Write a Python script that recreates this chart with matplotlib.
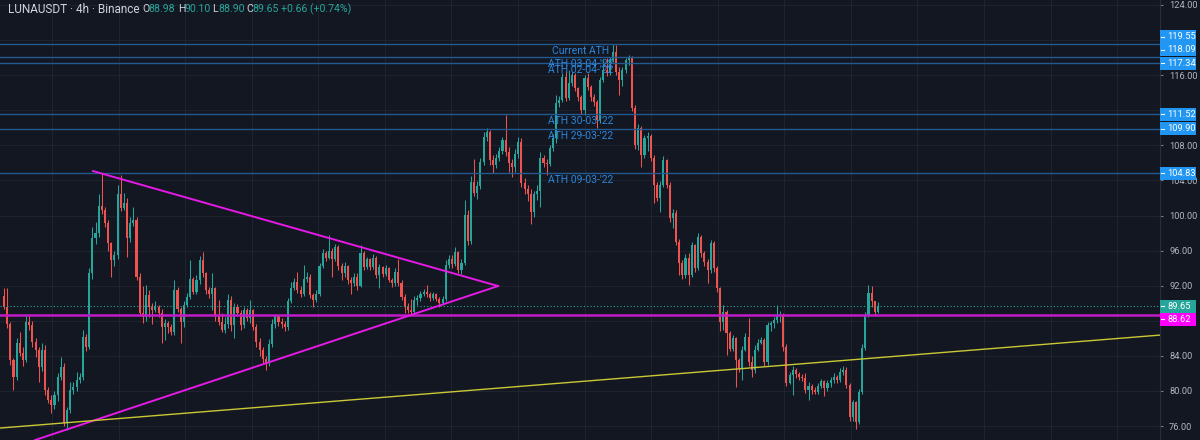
"""
LUNAUSDT 4h (Binance) - TradingView style candles with ATH levels,
symmetrical triangle and rising support line.
"""

import numpy as np
import matplotlib.pyplot as plt
from matplotlib.patches import Rectangle
from matplotlib.ticker import FuncFormatter
from matplotlib.transforms import blended_transform_factory

plt.rcParams["font.family"] = ["Roboto", "DejaVu Sans"]

# ---------------------------------------------------------------------------
# 1. Data: 4h candles, oldest -> newest
# ---------------------------------------------------------------------------
opens = [
    # early March: dip, spike to ~104.8, chop around 88
    90.8, 89.6, 87.6, 83.5, 81.6, 85.5, 84.3, 83.5, 87.9, 87.5,
    85.6, 84.7, 82.7, 84.7, 80.1, 79.0, 78.4, 79.5, 81.6, 82.7,
    76.4, 77.8, 80.1, 80.4, 81.3, 81.6, 86.2, 85.0, 93.4, 97.4,
    98.0, 101.1, 100.6, 99.1, 96.9, 94.9, 95.5, 102.4, 100.9, 101.4,
    97.4, 99.1, 99.5, 93.0, 88.9, 88.4, 90.9, 89.6, 89.2, 89.6,
    88.9, 87.3, 87.8, 87.3, 86.7, 91.5,
    # triangle
    89.4, 87.9, 89.8, 90.7, 92.8, 91.3, 92.6, 94.9, 93.4, 91.5,
    91.0, 91.7, 88.5, 87.9, 87.0, 87.6, 90.4, 87.5, 89.6, 88.9,
    87.5, 89.2, 88.3, 89.2, 87.3, 85.6, 84.7, 83.6, 83.2, 85.4,
    87.6, 88.5, 87.9, 87.6, 87.3, 90.2, 91.7, 92.4, 91.5, 91.0,
    92.8, 93.0, 90.9, 90.4, 91.0, 94.2, 95.7, 95.2, 95.9, 95.0,
    96.4, 94.2, 93.4, 94.2, 92.6, 92.3, 93.0,
    # breakout
    92.0, 95.7, 94.1, 95.0, 94.1, 95.2, 93.2, 94.1, 93.3, 94.0,
    92.7, 92.3, 93.6, 92.3, 90.7, 89.6, 89.2, 89.0, 90.4, 90.6,
    91.1, 91.3, 91.0, 90.6, 91.0, 90.5, 90.0, 90.5, 94.4, 95.1,
    94.5, 95.8, 93.8, 94.6, 100.1, 97.1, 103.8, 102.6, 103.4, 106.1,
    108.9, 109.5, 106.3, 105.8, 106.6, 107.3, 108.6, 107.2, 106.0, 105.5,
    107.0, 108.4, 103.7, 103.0, 102.5, 100.4, 102.4, 102.8,
    # ATH top and sell-off
    106.6, 106.0, 105.9, 107.7, 108.8, 112.8, 113.2, 115.8, 113.4, 115.1,
    116.0, 114.5, 113.5, 112.0, 115.7, 114.7, 113.5, 112.9, 110.9, 115.4,
    116.6, 116.3, 117.7, 118.6, 116.4, 115.4, 116.6, 117.7, 118.0, 112.3,
    108.0, 110.0, 106.9, 108.8, 109.1, 106.6, 103.5, 102.0, 103.5, 106.3,
    103.5, 99.7, 100.3, 97.0, 94.6, 93.2, 95.2, 93.2, 96.6, 94.0,
    97.6, 95.7, 94.7, 93.8, 96.9, 94.0, 91.7,
    # base and rebound
    87.9, 89.0, 86.6, 84.8, 86.0, 83.5, 82.6, 84.7, 86.2, 83.3,
    82.4, 84.7, 85.5, 85.8, 83.3, 87.5, 87.8, 88.1, 88.5, 88.7,
    85.0, 80.9, 81.8, 82.4, 81.9, 81.6, 81.5, 80.1, 80.6, 80.1,
    79.9, 80.6, 81.1, 80.3, 80.9, 81.2, 81.6, 81.3, 82.2, 82.4,
    80.7, 77.0, 78.7, 76.5, 79.9, 84.9, 88.7, 91.2, 90.2, 88.98,
]
highs = [
    91.7, 91.7, 87.9, 83.8, 86.0, 86.7, 85.0, 88.7, 88.5, 88.0,
    86.0, 85.0, 85.5, 85.2, 80.5, 79.5, 80.0, 82.0, 83.9, 83.2,
    78.2, 81.0, 81.0, 82.2, 82.0, 87.0, 86.5, 94.0, 98.7, 99.3,
    102.4, 104.8, 101.0, 99.5, 97.0, 96.0, 103.5, 104.6, 102.6, 102.0,
    99.8, 101.0, 99.8, 93.5, 92.0, 92.1, 91.5, 90.0, 90.2, 89.8,
    89.3, 88.2, 88.0, 87.6, 92.7, 91.8,
    89.6, 90.3, 91.2, 94.9, 93.0, 93.2, 95.4, 95.8, 93.6, 91.8,
    93.4, 91.9, 90.4, 88.9, 88.4, 91.0, 90.8, 90.0, 89.9, 89.2,
    89.6, 89.5, 90.4, 89.3, 87.6, 86.0, 85.0, 84.0, 85.9, 88.2,
    88.7, 88.6, 88.3, 88.0, 90.6, 92.4, 92.9, 93.6, 92.0, 94.4,
    93.6, 93.3, 91.2, 91.5, 94.6, 96.2, 96.0, 97.8, 96.3, 96.8,
    96.6, 94.6, 94.7, 94.4, 93.0, 93.4, 93.5,
    96.6, 95.9, 95.3, 95.2, 95.6, 95.4, 94.5, 94.3, 94.4, 94.1,
    92.9, 94.0, 95.0, 92.6, 91.0, 90.0, 90.5, 90.8, 90.9, 91.4,
    91.6, 92.1, 91.3, 91.3, 91.2, 90.7, 90.8, 94.9, 95.5, 95.5,
    96.4, 96.0, 95.0, 101.8, 100.6, 104.5, 106.4, 103.9, 106.6, 109.5,
    110.0, 109.8, 106.9, 107.0, 107.8, 109.0, 111.5, 107.8, 106.5, 107.6,
    108.9, 108.8, 104.3, 103.5, 103.0, 102.8, 103.5, 107.2,
    106.9, 106.5, 108.0, 109.3, 113.7, 113.6, 116.2, 116.5, 116.6, 116.4,
    116.3, 114.6, 113.7, 116.0, 116.2, 114.9, 113.9, 113.2, 115.8, 117.7,
    118.0, 118.1, 119.55, 119.4, 116.9, 116.9, 118.0, 118.3, 118.2, 112.6,
    110.4, 110.2, 109.2, 109.5, 109.3, 106.9, 103.8, 103.9, 106.8, 106.5,
    103.8, 100.7, 100.6, 97.3, 94.9, 95.6, 95.7, 97.0, 96.8, 98.0,
    97.8, 96.0, 95.0, 97.2, 97.1, 94.2, 91.9,
    89.8, 89.2, 86.8, 86.4, 86.2, 83.8, 85.1, 86.6, 88.3, 84.0,
    85.2, 85.9, 86.2, 86.0, 87.9, 88.0, 88.4, 89.8, 89.1, 88.9,
    85.3, 82.2, 82.8, 82.6, 82.2, 81.9, 82.0, 81.0, 80.8, 80.5,
    80.9, 81.4, 81.3, 81.2, 81.6, 82.0, 81.8, 82.6, 82.9, 82.7,
    80.9, 79.0, 78.9, 80.2, 85.3, 89.0, 92.1, 92.0, 90.3, 90.10,
]
lows = [
    89.3, 87.2, 83.0, 80.1, 81.2, 84.0, 82.9, 83.3, 87.0, 85.0,
    83.9, 81.0, 82.3, 79.5, 78.6, 77.5, 78.0, 78.9, 81.3, 76.0,
    75.6, 77.5, 79.6, 80.0, 80.9, 81.3, 84.6, 84.8, 92.8, 96.8,
    97.5, 100.2, 98.7, 96.0, 93.0, 94.3, 95.0, 100.5, 100.6, 95.3,
    97.0, 98.8, 92.6, 88.5, 87.8, 88.0, 88.4, 87.6, 89.0, 88.4,
    85.5, 85.8, 86.6, 86.4, 86.4, 89.0,
    85.5, 87.3, 89.6, 90.5, 91.0, 91.0, 92.2, 93.0, 91.1, 90.6,
    89.2, 88.0, 87.5, 86.7, 86.6, 87.2, 86.8, 86.0, 88.5, 86.9,
    87.2, 88.0, 87.8, 86.9, 85.0, 84.0, 83.1, 82.4, 82.8, 85.0,
    87.2, 87.4, 87.2, 86.8, 87.0, 90.0, 91.5, 91.2, 90.7, 90.8,
    92.4, 90.6, 89.6, 90.1, 90.8, 94.0, 94.8, 95.0, 93.0, 94.8,
    93.8, 92.6, 93.0, 92.2, 91.0, 92.0, 91.5,
    91.8, 93.8, 93.9, 93.8, 93.9, 92.9, 91.7, 93.0, 93.1, 92.4,
    91.9, 92.0, 92.0, 90.4, 88.9, 88.9, 88.7, 88.8, 89.8, 90.3,
    90.8, 90.7, 90.3, 90.4, 90.2, 89.6, 89.8, 90.2, 94.0, 94.0,
    94.3, 93.4, 93.3, 94.4, 96.6, 96.8, 102.2, 101.9, 103.0, 105.8,
    108.5, 105.8, 104.8, 105.4, 106.2, 107.0, 106.8, 105.0, 104.4, 105.0,
    106.6, 103.2, 102.5, 101.7, 99.0, 99.8, 101.8, 101.0,
    105.5, 104.6, 105.7, 107.4, 108.3, 112.4, 112.9, 113.0, 113.2, 114.8,
    114.2, 113.0, 111.6, 111.5, 114.3, 113.1, 112.5, 110.0, 110.6, 115.2,
    115.9, 116.0, 117.5, 116.0, 113.7, 114.8, 116.3, 117.2, 111.9, 107.6,
    107.5, 105.5, 106.6, 107.4, 106.2, 101.4, 101.6, 100.4, 103.2, 103.1,
    99.3, 98.6, 96.6, 93.2, 92.8, 92.9, 92.1, 93.0, 93.6, 93.8,
    95.3, 94.3, 92.3, 93.5, 93.6, 91.3, 86.8,
    87.0, 84.1, 84.5, 84.5, 80.5, 82.2, 81.3, 84.5, 82.9, 81.6,
    82.0, 84.5, 85.3, 82.9, 83.0, 86.8, 87.2, 87.8, 87.9, 84.6,
    80.6, 80.8, 79.5, 81.5, 81.3, 81.1, 79.8, 79.0, 79.7, 79.6,
    79.7, 80.3, 79.4, 80.0, 80.5, 80.9, 80.9, 81.0, 81.8, 80.3,
    76.6, 76.6, 75.7, 76.2, 79.7, 84.7, 88.4, 89.6, 88.5, 88.90,
]
closes = [
    89.6, 87.6, 83.5, 81.6, 85.5, 84.3, 83.5, 87.9, 87.5, 85.6,
    84.7, 82.7, 84.7, 80.1, 79.0, 78.4, 79.5, 81.6, 82.7, 76.4,
    77.8, 80.1, 80.4, 81.3, 81.6, 86.2, 85.0, 93.4, 97.4, 98.0,
    101.1, 100.6, 99.1, 96.9, 94.9, 95.5, 102.4, 100.9, 101.4, 97.4,
    99.1, 99.5, 93.0, 88.9, 88.4, 90.9, 89.6, 89.2, 89.6, 88.9,
    87.3, 87.8, 87.3, 86.7, 91.5, 89.4,
    87.9, 89.8, 90.7, 92.8, 91.3, 92.6, 94.9, 93.4, 91.5, 91.0,
    91.7, 88.5, 87.9, 87.0, 87.6, 90.4, 87.5, 89.6, 88.9, 87.5,
    89.2, 88.3, 89.2, 87.3, 85.6, 84.7, 83.6, 83.2, 85.4, 87.6,
    88.5, 87.9, 87.6, 87.3, 90.2, 91.7, 92.4, 91.5, 91.0, 92.8,
    93.0, 90.9, 90.4, 91.0, 94.2, 95.7, 95.2, 95.9, 95.0, 96.4,
    94.2, 93.4, 94.2, 92.6, 92.3, 93.0, 92.0,
    95.7, 94.1, 95.0, 94.1, 95.2, 93.2, 94.1, 93.3, 94.0, 92.7,
    92.3, 93.6, 92.3, 90.7, 89.6, 89.2, 89.0, 90.4, 90.6, 91.1,
    91.3, 91.0, 90.6, 91.0, 90.5, 90.0, 90.5, 94.4, 95.1, 94.5,
    95.8, 93.8, 94.6, 100.1, 97.1, 103.8, 102.6, 103.4, 106.1, 108.9,
    109.5, 106.3, 105.8, 106.6, 107.3, 108.6, 107.2, 106.0, 105.5, 107.0,
    108.4, 103.7, 103.0, 102.5, 100.4, 102.4, 102.8, 106.6,
    106.0, 105.9, 107.7, 108.8, 112.8, 113.2, 115.8, 113.4, 115.1, 116.0,
    114.5, 113.5, 112.0, 115.7, 114.7, 113.5, 112.9, 110.9, 115.4, 116.6,
    116.3, 117.7, 118.6, 116.4, 115.4, 116.6, 117.7, 118.0, 112.3, 108.0,
    110.0, 106.9, 108.8, 109.1, 106.6, 103.5, 102.0, 103.5, 106.3, 103.5,
    99.7, 100.3, 97.0, 94.6, 93.2, 95.2, 93.2, 96.6, 94.0, 97.6,
    95.7, 94.7, 93.8, 96.9, 94.0, 91.7, 87.9,
    89.0, 86.6, 84.8, 86.0, 83.5, 82.6, 84.7, 86.2, 83.3, 82.4,
    84.7, 85.5, 85.8, 83.3, 87.5, 87.8, 88.1, 88.5, 88.7, 85.0,
    80.9, 81.8, 82.4, 81.9, 81.6, 81.5, 80.1, 80.6, 80.1, 79.9,
    80.6, 81.1, 80.3, 80.9, 81.2, 81.6, 81.3, 82.2, 82.4, 80.7,
    77.0, 78.7, 76.5, 79.9, 84.9, 88.7, 91.2, 90.2, 88.98, 89.65,
]

ath_levels = [119.55, 118.09, 117.34, 111.52, 109.90, 104.83]
ath_labels = ["Current ATH", "ATH 03-04-'22", "ATH 02-04-'22",
              "ATH 30-03-'22", "ATH 29-03-'22", "ATH 09-03-'22"]
support_level = 88.62
last_price = 89.65
price_ticks = [76, 80, 84, 88, 92, 96, 100, 104, 108, 112, 116, 120, 124]
covered_ticks = [88, 112, 120]   # hidden behind the price-axis boxes

# drawn trend lines: (candle index, price) end points
tri_upper_x, tri_upper_y = [28.2, 156.6], [105.07, 91.96]
tri_lower_x, tri_lower_y = [9.8, 156.6], [74.40, 91.96]
support_x, support_y = [-1.3, 366.4], [75.77, 86.37]

# ---------------------------------------------------------------------------
# 2. Style
# ---------------------------------------------------------------------------
BG = "#131722"
GRID = "#1f2330"
UP = "#26a69a"
DOWN = "#ef5350"
TXT = "#b2b5be"
ATH_LINE = "#24598f"
ATH_TXT = "#2a86dc"
ATH_BOX = "#2196f3"
MAGENTA = "#c21cc8"
TRI = "#e619e6"
YELLOW = "#c9c934"

W, H = 1200, 440
PLOT_R = 1160

o = np.array(opens)
h = np.array(highs)
l = np.array(lows)
c = np.array(closes)
x = np.arange(len(c))

fig = plt.figure(figsize=(W / 100, H / 100), dpi=100, facecolor=BG)
ax = fig.add_axes([0, 0, PLOT_R / W, 1])
ax.set_facecolor(BG)
ax.set_xlim(-1.27, 366.4)
ax.set_ylim(74.41, 124.57)

# grid
ax.set_yticks(price_ticks)
ax.set_xticks([15.2 + 21.1 * k for k in range(17)])
ax.grid(True, color=GRID, lw=0.8, zorder=0)
ax.set_axisbelow(True)
ax.tick_params(axis="x", length=0, labelbottom=False)
ax.yaxis.tick_right()
ax.yaxis.set_major_formatter(
    FuncFormatter(lambda v, _: "" if round(v) in covered_ticks else f"{v:.2f}"))
ax.tick_params(axis="y", colors="#787b86", labelcolor=TXT, labelsize=6.7,
               length=2.5, width=0.8, pad=4)
for name, sp in ax.spines.items():
    sp.set_visible(name == "right")
ax.spines["right"].set_color("#2a2e39")

# candles
col = np.where(c >= o, UP, DOWN)
ax.vlines(x, l, h, colors=col, lw=0.75, zorder=2)
ax.bar(x, np.maximum(np.abs(c - o), 0.08), bottom=np.minimum(o, c),
       width=0.66, color=col, lw=0, zorder=2)

# horizontal levels
for lvl, lab in zip(ath_levels, ath_labels):
    ax.axhline(lvl, color=ATH_LINE, lw=1.0, zorder=3)
    ax.text(182.9, lvl - 0.8, lab, color=ATH_TXT, fontsize=7.5,
            ha="center", va="center", zorder=4)
ax.axhline(support_level, color=MAGENTA, lw=1.8, zorder=3)
ax.axhline(last_price, color=UP, lw=0.8, ls=(0, (1, 2)), zorder=3)

# drawings
ax.plot(tri_upper_x, tri_upper_y, color=TRI, lw=1.4, zorder=4)
ax.plot(tri_lower_x, tri_lower_y, color=TRI, lw=1.4, zorder=4)
ax.plot(support_x, support_y, color=YELLOW, lw=1.0, zorder=4)

# price-axis labels (stacked like TradingView when they collide)
trans = blended_transform_factory(fig.transFigure, ax.transData)
px_per_unit = H / (124.57 - 74.41)
axis_labels = [(119.55, ATH_BOX, 7.5), (118.09, ATH_BOX, 7), (117.34, ATH_BOX, 0),
               (111.52, ATH_BOX, 0), (109.90, ATH_BOX, 0), (104.83, ATH_BOX, 0),
               (89.65, UP, 0), (88.62, "#ff00ff", -4)]
for val, fc, shift in axis_labels:
    yc = val + shift / px_per_unit
    hh = 13 / px_per_unit
    ax.add_patch(Rectangle((PLOT_R / W, yc - hh / 2), 36 / W, hh,
                           transform=trans, facecolor=fc, edgecolor="none",
                           clip_on=False, zorder=6))
    ax.plot([(PLOT_R + 1) / W, (PLOT_R + 4) / W], [yc, yc], transform=trans,
            color="white", lw=0.8, clip_on=False, zorder=7)
    ax.text((PLOT_R + 7) / W, yc, f"{val:.2f}", transform=trans, color="white",
            fontsize=6.7, ha="left", va="center", clip_on=False, zorder=7)

# header
ty = 1 - 9.5 / H
fig.text(8 / W, ty, "LUNAUSDT · 4h · Binance", color="#d1d4dc", fontsize=8.5,
         va="center")
for xp, letter, val in [(142, "O", "88.98"), (178, "H", "90.10"),
                        (212, "L", "88.90"), (246, "C", "89.65")]:
    fig.text(xp / W, ty, letter, color="#d1d4dc", fontsize=7.6, va="center")
    fig.text((xp + 6.5) / W, ty, val, color=UP, fontsize=7.6, va="center")
fig.text(281 / W, ty, "+0.66 (+0.74%)", color=UP, fontsize=7.6, va="center")

plt.savefig("out.png", dpi=100, facecolor=BG)
